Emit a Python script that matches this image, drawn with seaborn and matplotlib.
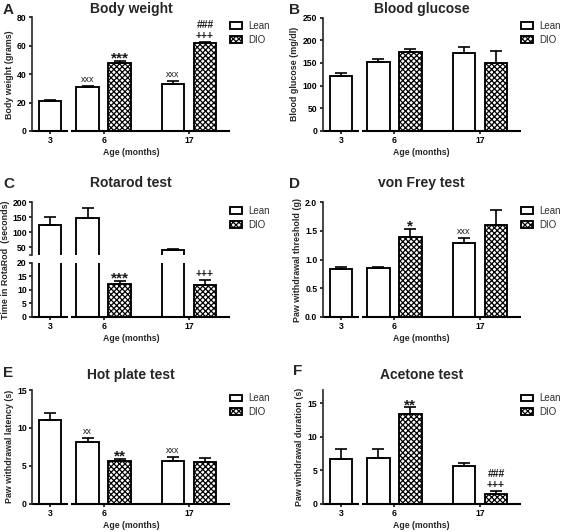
import numpy as np
import pandas as pd
import matplotlib
matplotlib.use('Agg')
import matplotlib.pyplot as plt
import seaborn as sns

# ---- data (means and SEM) ----
ages = ['3', '6', '17']
groups = ['Lean', 'DIO']

weight_lean = [21.2, 30.8, 33.4]
weight_lean_sem = [0.8, 0.6, 1.8]
weight_dio = [np.nan, 47.8, 61.9]
weight_dio_sem = [np.nan, 1.6, 0.9]
weight_lean_marks = ['', 'xxx', 'xxx']
weight_dio_marks = ['', '***', '###\n+++']

glucose_lean = [122, 152, 172]
glucose_lean_sem = [5, 7, 13]
glucose_dio = [np.nan, 175, 149]
glucose_dio_sem = [np.nan, 5, 28]
glucose_lean_marks = ['', '', '']
glucose_dio_marks = ['', '', '']

rotarod_lean = [124, 147, 41]
rotarod_lean_sem = [28, 33, 3]
rotarod_dio = [np.nan, 12.2, 11.8]
rotarod_dio_sem = [np.nan, 1.1, 1.9]
rotarod_lean_marks = ['', '', '']
rotarod_dio_marks = ['', '***', '+++']

vonfrey_lean = [0.83, 0.845, 1.28]
vonfrey_lean_sem = [0.04, 0.02, 0.10]
vonfrey_dio = [np.nan, 1.39, 1.60]
vonfrey_dio_sem = [np.nan, 0.15, 0.27]
vonfrey_lean_marks = ['', '', 'xxx']
vonfrey_dio_marks = ['', '*', '']

hotplate_lean = [11.1, 8.1, 5.63]
hotplate_lean_sem = [0.8, 0.6, 0.5]
hotplate_dio = [np.nan, 5.6, 5.55]
hotplate_dio_sem = [np.nan, 0.35, 0.45]
hotplate_lean_marks = ['', 'xx', 'xxx']
hotplate_dio_marks = ['', '**', '']

acetone_lean = [6.7, 6.9, 5.6]
acetone_lean_sem = [1.5, 1.3, 0.5]
acetone_dio = [np.nan, 13.45, 1.45]
acetone_dio_sem = [np.nan, 0.95, 0.45]
acetone_lean_marks = ['', '', '']
acetone_dio_marks = ['', '**', '###\n+++']

# ---- layout ----
W, H = 567, 532
group_centers = [0.0, 1.67, 4.34]
pair_offset = 0.5
bar_width = 0.7
xlim = (-0.57, 5.62)
axis_gap = (0.57, 0.66)
col_x = [(32, 230), (322.5, 521)]
row_y = [(17.5, 131), (202.3, 316.7), (390, 503.7)]
title_pad = [3, 11, 7.7]

sns.set_style('ticks')
plt.rcParams['font.family'] = ['Liberation Sans', 'DejaVu Sans']
plt.rcParams['hatch.linewidth'] = 0.9
plt.rcParams['axes.linewidth'] = 1.2

mark_style = {
    'x': dict(fontsize=6.4, fontweight='normal', offset=2.9),
    '*': dict(fontsize=11, fontweight='bold', offset=-1.2),
    '+': dict(fontsize=7.5, fontweight='bold', offset=2.3),
    '#': dict(fontsize=7.5, fontweight='bold', offset=2.3),
}


def make_frame(lean, lean_sem, dio, dio_sem, lean_marks, dio_marks):
    rows = []
    for i, age in enumerate(ages):
        n = sum(not np.isnan(v[i]) for v in (lean, dio))
        for g, vals, sems, marks in [('Lean', lean, lean_sem, lean_marks),
                                     ('DIO', dio, dio_sem, dio_marks)]:
            if np.isnan(vals[i]):
                continue
            off = 0 if n == 1 else (-pair_offset if g == 'Lean' else pair_offset)
            rows.append(dict(age=age, group=g, value=vals[i], err=sems[i],
                             mark=marks[i], pos=group_centers[i] + off))
    return pd.DataFrame(rows)


def rect(col, top, bottom):
    left, right = col_x[col]
    return [left / W, 1 - bottom / H, (right - left) / W, (bottom - top) / H]


def draw_bars(ax, d):
    sns.barplot(data=d, x='pos', y='value', hue='group', hue_order=groups,
                native_scale=True, dodge=False, width=bar_width,
                palette={'Lean': 'white', 'DIO': 'white'}, saturation=1,
                edgecolor='black', linewidth=1.35, errorbar=None, legend=False, ax=ax)
    dio_pos = d.loc[d['group'] == 'DIO', 'pos'].to_numpy()
    for p in ax.patches:
        cx = p.get_x() + p.get_width() / 2
        if np.any(np.isclose(cx, dio_pos)):
            p.set_hatch('xxxxxx')
    yerr = np.vstack([np.zeros(len(d)), d['err'].to_numpy()])
    ax.errorbar(d['pos'].to_numpy(), d['value'].to_numpy(), yerr=yerr, fmt='none',
                ecolor='black', elinewidth=1.2, capsize=4.3, capthick=1.2)


def annotate(ax, d):
    for _, r in d.iterrows():
        if not r['mark']:
            continue
        for k, line in enumerate(reversed(r['mark'].split('\n'))):
            st = mark_style[line[0]]
            ax.annotate(line, xy=(r['pos'], r['value'] + r['err']),
                        xytext=(0, st['offset'] + k * 7.7), textcoords='offset points',
                        ha='center', va='baseline', fontsize=st['fontsize'],
                        fontweight=st['fontweight'], color='#1a1a1a')


def style_axis(ax, show_x=True):
    sns.despine(ax=ax)
    ax.spines['bottom'].set_visible(False)
    ax.set_xlim(xlim)
    ax.tick_params(axis='both', direction='out', length=2.5, width=1.1,
                   labelsize=6.2, pad=1.2, colors='black')
    for lab in ax.get_yticklabels():
        lab.set_fontweight('bold')
    if show_x:
        ax.set_xticks(group_centers, ages, fontweight='bold')
        for seg in [(xlim[0], axis_gap[0]), (axis_gap[1], xlim[1])]:
            ax.plot(seg, [0, 0], transform=ax.get_xaxis_transform(), color='black',
                    lw=1.5, clip_on=False, solid_capstyle='butt')
        ax.set_xlabel('Age (months)', fontsize=6.3, fontweight='bold', labelpad=2.3)
    else:
        ax.set_xticks([])
        ax.set_xlabel('')


def add_legend(ax, anchor_y):
    handles = [c for c in ax.containers if hasattr(c, 'patches')][:2]
    ax.legend(handles, groups, loc='upper left', bbox_to_anchor=(1.0, anchor_y),
              frameon=False, fontsize=7, handlelength=1.25, handleheight=0.7,
              handletextpad=0.65, labelspacing=0.4, borderaxespad=0, borderpad=0,
              labelcolor='#303030')


fig = plt.figure(figsize=(W / 100, H / 100), dpi=100)

panels = [
    ('A', 'Body weight', 'Body weight (grams)', 0, 0, (0, 80), np.arange(0, 81, 20),
     make_frame(weight_lean, weight_lean_sem, weight_dio, weight_dio_sem,
                weight_lean_marks, weight_dio_marks)),
    ('B', 'Blood glucose', 'Blood glucose (mg/dl)', 1, 0, (0, 250), np.arange(0, 251, 50),
     make_frame(glucose_lean, glucose_lean_sem, glucose_dio, glucose_dio_sem,
                glucose_lean_marks, glucose_dio_marks)),
    ('D', 'von Frey test', 'Paw withdrawal threshold (g)', 1, 1, (0, 2.0), np.arange(0, 2.01, 0.5),
     make_frame(vonfrey_lean, vonfrey_lean_sem, vonfrey_dio, vonfrey_dio_sem,
                vonfrey_lean_marks, vonfrey_dio_marks)),
    ('E', 'Hot plate test', 'Paw withdrawal latency (s)', 0, 2, (0, 15), np.arange(0, 16, 5),
     make_frame(hotplate_lean, hotplate_lean_sem, hotplate_dio, hotplate_dio_sem,
                hotplate_lean_marks, hotplate_dio_marks)),
    ('F', 'Acetone test', 'Paw withdrawal duration (s)', 1, 2, (0, 17), np.arange(0, 16, 5),
     make_frame(acetone_lean, acetone_lean_sem, acetone_dio, acetone_dio_sem,
                acetone_lean_marks, acetone_dio_marks)),
]

letter_pos = {'A': (3, 14), 'B': (289, 13.5), 'C': (3, 188), 'D': (289, 188),
              'E': (3, 377), 'F': (293, 375)}

for letter, title, ylabel, col, row, ylim, yticks, d in panels:
    top, bottom = row_y[row]
    ax = fig.add_axes(rect(col, top, bottom))
    draw_bars(ax, d)
    ax.set_ylim(ylim)
    ax.set_yticks(yticks)
    style_axis(ax)
    ax.set_ylabel(ylabel, fontsize=6.4, fontweight='bold', labelpad=2.5)
    ax.set_title(title, fontsize=10, fontweight='bold', pad=title_pad[row])
    annotate(ax, d)
    add_legend(ax, 0.97)

# panel C: broken y axis
rot = make_frame(rotarod_lean, rotarod_lean_sem, rotarod_dio, rotarod_dio_sem,
                 rotarod_lean_marks, rotarod_dio_marks)
top, bottom = row_y[1]
ax_hi = fig.add_axes(rect(0, top, top + 52.5))
ax_lo = fig.add_axes(rect(0, bottom - 54, bottom))
for ax in (ax_hi, ax_lo):
    draw_bars(ax, rot)
ax_hi.set_ylim(25, 200)
ax_hi.set_yticks([50, 100, 150, 200])
ax_hi.set_yticks([25], minor=True)
ax_hi.tick_params(axis='y', which='minor', length=2.5, width=1.1)
style_axis(ax_hi, show_x=False)
ax_hi.set_ylabel('')
ax_lo.set_ylim(0, 20)
ax_lo.set_yticks(np.arange(0, 21, 5))
style_axis(ax_lo)
ax_lo.set_ylabel('Time in RotaRod  (seconds)', fontsize=6.4, fontweight='bold')
ax_lo.yaxis.set_label_coords(-0.11, 1.06)
ax_hi.set_title('Rotarod test', fontsize=10, fontweight='bold', pad=title_pad[1])
annotate(ax_lo, rot)
add_legend(ax_hi, 0.93)

for letter, (x, y) in letter_pos.items():
    fig.text(x / W, 1 - y / H, letter, fontsize=11, fontweight='bold', va='baseline')

fig.savefig('out.png', dpi=100)
